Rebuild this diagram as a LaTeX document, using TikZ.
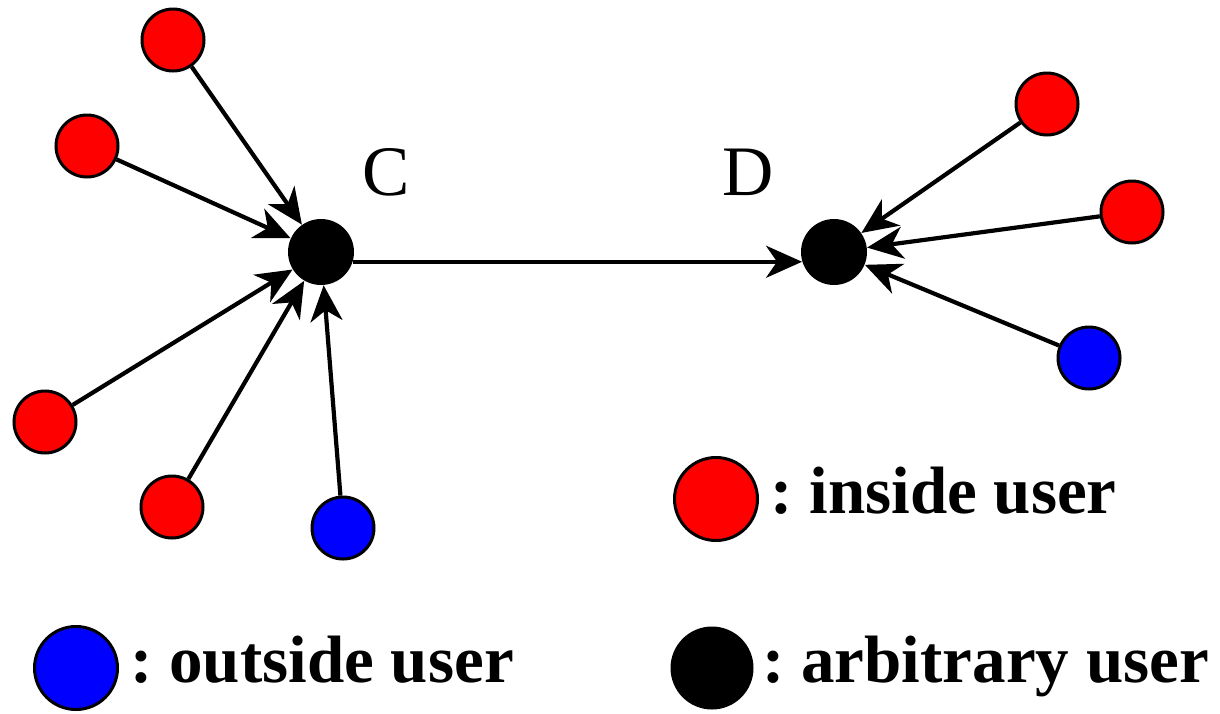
\documentclass[tikz,border=0pt]{standalone}
\usepackage{fontspec}
\setmainfont{Liberation Serif}
\usetikzlibrary{arrows.meta}
\frenchspacing
\begin{document}
\begin{tikzpicture}[x=0.5pt,y=-0.5pt,
  user/.style={circle,draw=black,line width=1.5pt,minimum size=31pt,inner sep=0pt},
  inuser/.style={user,fill=red},
  outuser/.style={user,fill=blue},
  anyuser/.style={circle,fill=black,minimum size=33pt,inner sep=0pt},
  keydot/.style={circle,draw=black,line width=1.5pt,minimum size=41.5pt,inner sep=0pt},
  keytext/.style={anchor=base west,inner sep=0pt,font=\fontsize{33.5pt}{40pt}\selectfont\bfseries},
  hublabel/.style={anchor=base west,inner sep=0pt,font=\fontsize{35.5pt}{42pt}\selectfont},
  link/.style={line width=2.1pt,-{Stealth[length=18pt,width=16pt,inset=5.5pt]}}]
\useasboundingbox (0,0) rectangle (1220,713);

% hubs
\node[anyuser] (C) at (321,252) {};
\node[anyuser] (D) at (834,252) {};
\node[hublabel] (Clab) at (362,195) {C};
\node[hublabel] (Dlab) at (722,195) {D};

% users around C
\node[inuser] (c1) at (173,40) {};
\node[inuser] (c2) at (87,146) {};
\node[inuser] (c3) at (45,422) {};
\node[inuser] (c4) at (172,507) {};
\node[outuser] (c5) at (343,528) {};

% users around D
\node[inuser] (d1) at (1047,104) {};
\node[inuser] (d2) at (1132,212) {};
\node[outuser] (d3) at (1089,358) {};

% connectors
\foreach \n in {c1,c2,c3,c4,c5} \draw[link] (\n) -- (C);
\foreach \n in {d1,d2,d3} \draw[link] (\n) -- (D);
\draw[link] (C.-17) -- (D.-163);

% key
\node[keydot,fill=red] (kin) at (716,499) {};
\node[keytext] (kintxt) at (770,513) {: inside user};
\node[keydot,fill=blue] (kout) at (76,668) {};
\node[keytext] (kouttxt) at (130,682) {: outside user};
\node[circle,fill=black,minimum size=41.5pt,inner sep=0pt] (kany) at (712,668) {};
\node[keytext] (kanytxt) at (762,682) {: arbitrary user};
\end{tikzpicture}
\end{document}
